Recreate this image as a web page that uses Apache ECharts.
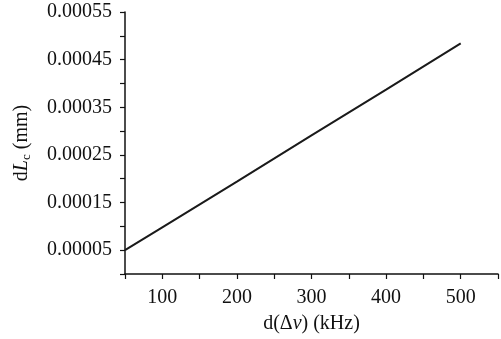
<!DOCTYPE html>
<html><head><meta charset="utf-8">
<script src="https://cdn.jsdelivr.net/npm/echarts@6/dist/echarts.min.js"></script>
<style>html,body{margin:0;padding:0;background:#fff}#c{width:501px;height:339px}</style>
</head><body><div id="c"></div>
<script>
const xValues = [50, 100, 200, 300, 400, 500];
const yValues = [0.00005, 0.000098, 0.000194, 0.000291, 0.000387, 0.000484];
const xTitle = 'd(Δ{i|v}) (kHz)';
const yTitle = 'd{i|L}{sub|c} (mm)';
const FONT = 'Liberation Serif';
const chart = echarts.init(document.getElementById('c'), null, {renderer: 'canvas'});
const rich = {
  i: {fontFamily: FONT, fontStyle: 'italic', fontSize: 20, color: '#111'},
  sub: {fontFamily: FONT, fontStyle: 'normal', fontSize: 13, color: '#111', padding: [10, 0, 0, 0]}
};
chart.setOption({
  animation: false,
  grid: {left: 125, right: -5, top: 12, bottom: 65},
  xAxis: {
    type: 'value', min: 50, max: 550, interval: 50,
    axisLine: {lineStyle: {color: '#111', width: 1.5}},
    axisTick: {length: 5, lineStyle: {color: '#111', width: 1.2}},
    splitLine: {show: false},
    axisLabel: {
      fontFamily: FONT, fontSize: 20, color: '#111', margin: 14,
      formatter: v => (v % 100 === 0 ? String(v) : '')
    },
    name: xTitle, nameLocation: 'middle', nameGap: 40,
    nameTextStyle: {fontFamily: FONT, fontSize: 20, color: '#111', rich: rich}
  },
  yAxis: {
    type: 'value', min: 0, max: 0.00055, interval: 0.00005,
    axisLine: {show: true, lineStyle: {color: '#111', width: 1.5}},
    axisTick: {show: true, length: 5, lineStyle: {color: '#111', width: 1.2}},
    splitLine: {show: false},
    axisLabel: {
      fontFamily: FONT, fontSize: 20, color: '#111', margin: 13,
      formatter: v => { const k = Math.round(v / 0.00005); return k % 2 === 1 ? v.toFixed(5) : ''; }
    },
    name: yTitle, nameLocation: 'middle', nameGap: 92, nameRotate: 90,
    nameTextStyle: {fontFamily: FONT, fontSize: 20, color: '#111', rich: rich}
  },
  series: [{
    type: 'line', data: xValues.map((x, i) => [x, yValues[i]]),
    showSymbol: false, lineStyle: {color: '#1a1a1a', width: 2}
  }]
});
</script></body></html>
